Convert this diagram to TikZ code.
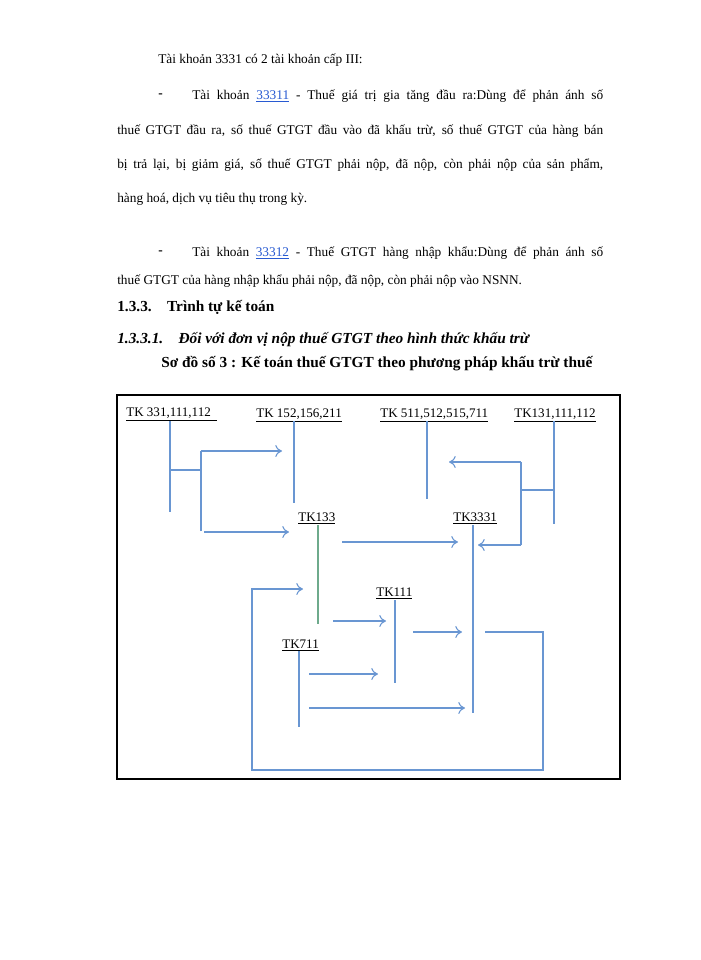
\documentclass[tikz,border=0pt]{standalone}
\usepackage{fontspec}
\setmainfont{Liberation Serif}
\usetikzlibrary{arrows.meta}
\definecolor{lnc}{RGB}{105,150,210}
\definecolor{lk}{RGB}{40,90,210}
\definecolor{grc}{RGB}{110,170,140}
\begin{document}
\begin{tikzpicture}[x=0.75pt,y=-0.75pt,
  tx/.style={anchor=west,inner sep=0,font=\fontsize{10}{12}\selectfont},
  hd/.style={anchor=west,inner sep=0,font=\fontsize{11.5}{13}\selectfont},
  lab/.style={anchor=base west,inner sep=0,font=\fontsize{9.8}{11}\selectfont},
  ln/.style={lnc,line width=0.8pt},
  ar/.style={lnc,line width=0.8pt,-{To[length=5pt,width=9pt]}}]
\useasboundingbox (0,0) rectangle (700,960);
\fill[white] (0,0) rectangle (700,960);
% text
\node[tx] (p1) at (158,60) {Tài khoản 3331 có 2 tài khoản cấp III:};
\node[tx] (q1) at (158,96) {\textbf{-}};
\node[tx] (p2) at (192,96) {\makebox[308.25pt][s]{Tài khoản \textcolor{lk}{\underline{33311}} - Thuế giá trị gia tăng đầu ra:Dùng để phản ánh số}};
\node[tx] (p3) at (117,131) {\makebox[364.5pt][s]{thuế GTGT đầu ra, số thuế GTGT đầu vào đã khấu trừ, số thuế GTGT của hàng bán}};
\node[tx] (p4) at (117,165) {\makebox[364.5pt][s]{bị trả lại, bị giảm giá, số thuế GTGT phải nộp, đã nộp, còn phải nộp của sản phẩm,}};
\node[tx] (p5) at (117,199) {hàng hoá, dịch vụ tiêu thụ trong kỳ.};
\node[tx] (q2) at (158,253) {\textbf{-}};
\node[tx] (p6) at (192,253) {\makebox[308.25pt][s]{Tài khoản \textcolor{lk}{\underline{33312}} - Thuế GTGT hàng nhập khẩu:Dùng để phản ánh số}};
\node[tx] (p7) at (117,281) {thuế GTGT của hàng nhập khẩu phải nộp, đã nộp, còn phải nộp vào NSNN.};
\node[hd] (s1) at (117,307) {\textbf{1.3.3.\quad Trình tự kế toán}};
\node[hd] (s2) at (117,340) {\textbf{\itshape 1.3.3.1.\quad Đối với đơn vị nộp thuế GTGT theo hình thức khấu trừ}};
\node[hd] (s3) at (161,364) {\textbf{Sơ đồ số 3 : Kế toán thuế GTGT theo phương pháp khấu trừ thuế}};
% frame
\draw[line width=1.2pt] (117,395) rectangle (620,779);
% labels
\node[lab] (a) at (126,416) {\underline{TK 331,111,112\ \ }};
\node[lab] (b) at (256,417) {\underline{TK 152,156,211}};
\node[lab] (c) at (380,417) {\underline{TK 511,512,515,711}};
\node[lab] (d) at (514,417) {\underline{TK131,111,112}};
\node[lab] (e) at (298,521) {\underline{TK133}};
\node[lab] (f) at (453,521) {\underline{TK3331}};
\node[lab] (g) at (376,596) {\underline{TK111}};
\node[lab] (h) at (282,648) {\underline{TK711}};
% coordinates
\coordinate (a1) at (170,421); \coordinate (a2) at (170,512);
\coordinate (a3) at (170,470); \coordinate (a4) at (201,470);
\coordinate (a5) at (201,451); \coordinate (a6) at (201,531);
\coordinate (b1) at (294,421); \coordinate (b2) at (294,503);
\coordinate (c1) at (427,421); \coordinate (c2) at (427,499);
\coordinate (d1) at (554,421); \coordinate (d2) at (554,524);
\coordinate (d3) at (521,490); \coordinate (d4) at (554,490);
\coordinate (d5) at (521,462); \coordinate (d6) at (521,545);
\coordinate (e1) at (318,525); \coordinate (e2) at (318,624);
\coordinate (f1) at (473,525); \coordinate (f2) at (473,713);
\coordinate (g1) at (395,600); \coordinate (g2) at (395,683);
\coordinate (h1) at (299,651); \coordinate (h2) at (299,727);
% lines
\draw[ln] (a1) -- (a2);
\draw[ln] (a3) -- (a4);
\draw[ln] (a6) -- (a5);
\draw[ar] (a5) -- (282,451);
\draw[ar] (204,532) -- (289,532);
\draw[ln] (b1) -- (b2);
\draw[ln] (c1) -- (c2);
\draw[ln] (d1) -- (d2);
\draw[ln] (d3) -- (d4);
\draw[ln] (d5) -- (d6);
\draw[ar] (d5) -- (449,462);
\draw[ar] (d6) -- (478,545);
\draw[grc,line width=0.8pt] (e1) -- (e2);
\draw[ln] (f1) -- (f2);
\draw[ar] (342,542) -- (458,542);
\draw[ln] (g1) -- (g2);
\draw[ln] (h1) -- (h2);
\draw[ar] (485,632) -- (543,632) -- (543,770) -- (252,770) -- (252,589) -- (303,589);
\draw[ar] (333,621) -- (386,621);
\draw[ar] (413,632) -- (462,632);
\draw[ar] (309,674) -- (378,674);
\draw[ar] (309,708) -- (465,708);
\end{tikzpicture}
\end{document}
